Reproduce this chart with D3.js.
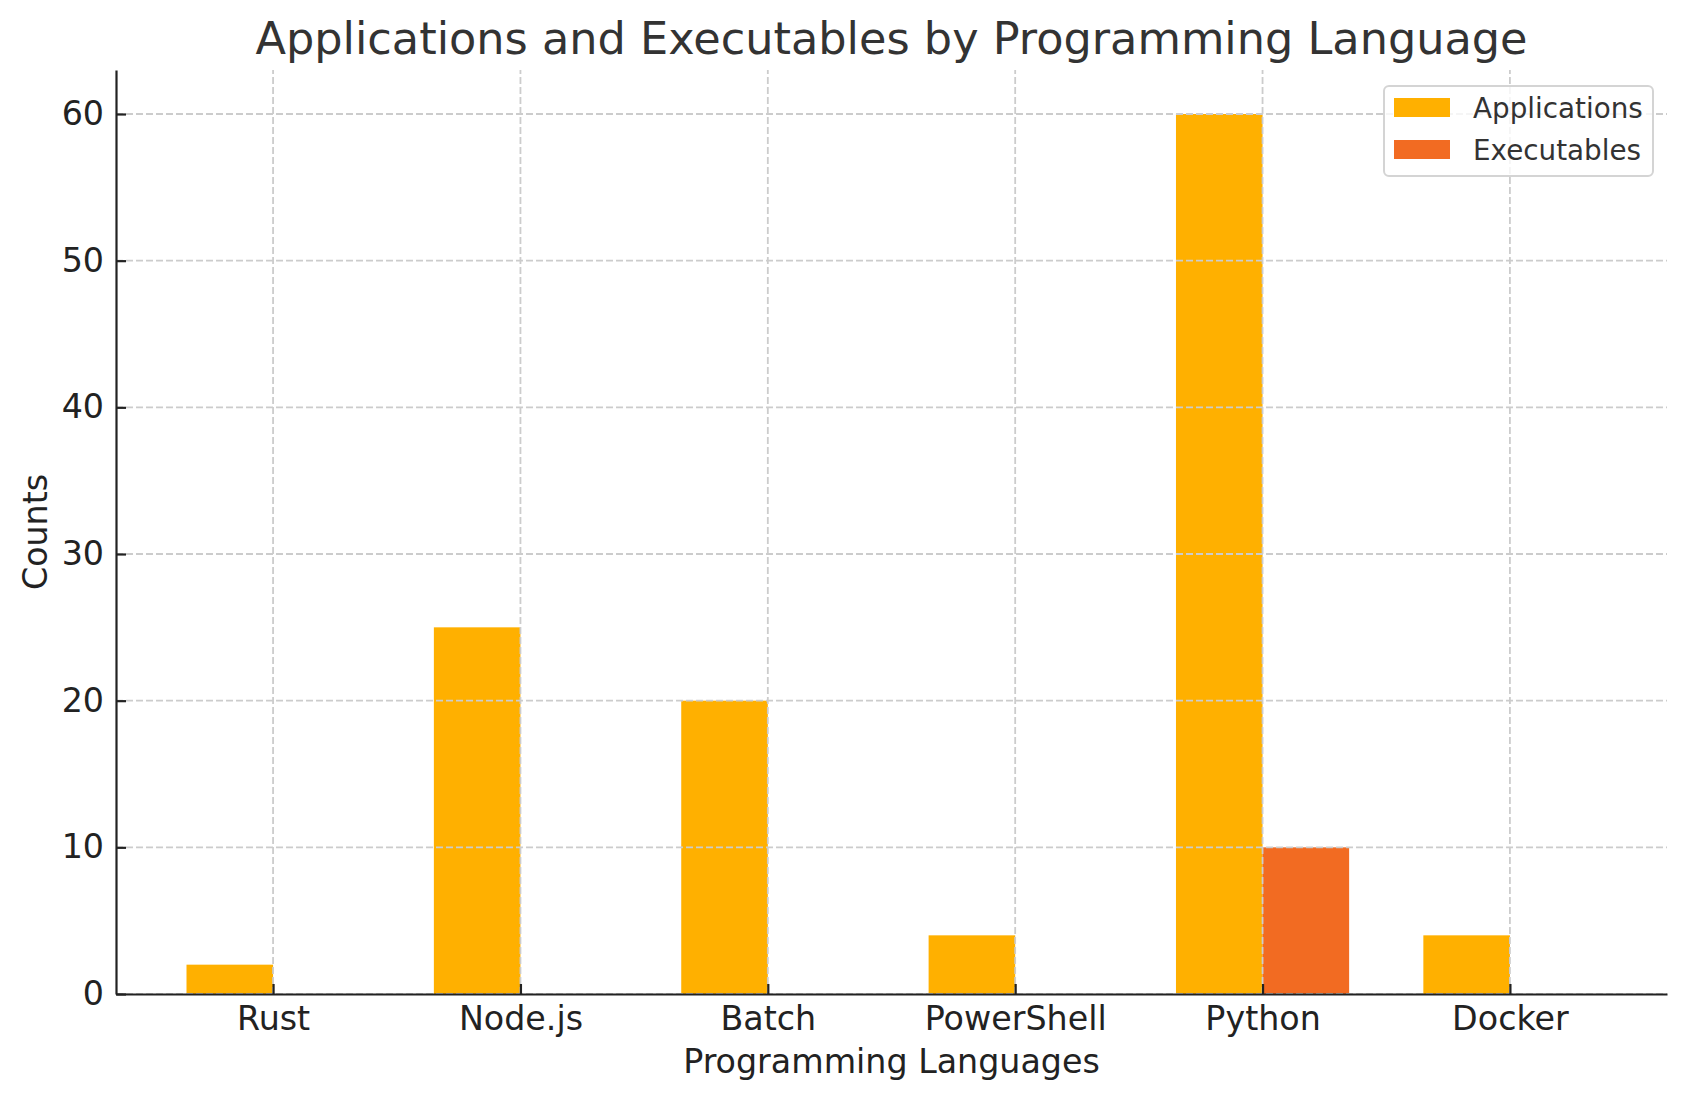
<!DOCTYPE html>
<html>
<head>
<meta charset="utf-8">
<script src="https://cdn.jsdelivr.net/npm/d3@7"></script>
<style>
  body { margin: 0; background: #fff; }
  svg { display: block; font-family: "DejaVu Sans", sans-serif; }
</style>
</head>
<body>
<svg id="chart" width="1686" height="1101"></svg>
<script>
const categories = ["Rust", "Node.js", "Batch", "PowerShell", "Python", "Docker"];
const applications = [2, 25, 20, 4, 60, 4];
const executables = [0, 0, 0, 0, 10, 0];
const seriesNames = ["Applications", "Executables"];
const yTicks = [0, 10, 20, 30, 40, 50, 60];

const colors = ["#FFB000", "#F26B22"];
const W = 1686, H = 1101;
const margin = { left: 116, right: 19, top: 70, bottom: 107 };
const barW = 0.35;
const n = categories.length;
const span = (n - 1) + 2 * barW;
const pad = 0.05 * span;

const svg = d3.select("#chart");
const x = d3.scaleLinear()
  .domain([-barW - pad, (n - 1) + barW + pad])
  .range([margin.left, W - margin.right]);
const yMax = d3.max(applications.concat(executables)) * 1.05;
const y = d3.scaleLinear()
  .domain([0, yMax])
  .range([H - margin.bottom, margin.top]);

// Bars
const series = [applications, executables];
series.forEach((vals, s) => {
  svg.append("g")
    .selectAll("rect")
    .data(vals)
    .join("rect")
    .attr("x", (d, i) => s === 0 ? x(i - barW) : x(i))
    .attr("width", x(barW) - x(0))
    .attr("y", d => y(d))
    .attr("height", d => y(0) - y(d))
    .attr("fill", colors[s]);
});

// Grid (drawn above bars, like matplotlib)
const grid = svg.append("g")
  .attr("stroke", "#cccccc")
  .attr("stroke-width", 1.8)
  .attr("stroke-dasharray", "7,3");
grid.selectAll("line.h")
  .data(yTicks)
  .join("line")
  .attr("class", "h")
  .attr("x1", margin.left).attr("x2", W - margin.right)
  .attr("y1", d => y(d)).attr("y2", d => y(d));
grid.selectAll("line.v")
  .data(d3.range(n))
  .join("line")
  .attr("class", "v")
  .attr("x1", d => x(d)).attr("x2", d => x(d))
  .attr("y1", y(0)).attr("y2", y(yMax));

// Axes
const xAxis = d3.axisBottom(x)
  .tickValues(d3.range(n))
  .tickFormat(i => categories[i])
  .tickSizeInner(-10)
  .tickSizeOuter(0)
  .tickPadding(12);
const gx = svg.append("g")
  .attr("transform", `translate(0,${y(0)})`)
  .call(xAxis);

const yAxis = d3.axisLeft(y)
  .tickValues(yTicks)
  .tickSizeInner(-10)
  .tickSizeOuter(0)
  .tickPadding(12);
const gy = svg.append("g")
  .attr("transform", `translate(${margin.left},0)`)
  .call(yAxis);

[gx, gy].forEach(g => {
  g.select(".domain").attr("stroke", "#222").attr("stroke-width", 2.2);
  g.selectAll(".tick line").attr("stroke", "#222").attr("stroke-width", 2.2);
  g.selectAll(".tick text")
    .attr("fill", "#222")
    .style("font-size", "33.3px")
    .style("font-family", "'DejaVu Sans', sans-serif");
});

// Axis labels
svg.append("text")
  .attr("x", (margin.left + W - margin.right) / 2)
  .attr("y", 1073)
  .attr("text-anchor", "middle")
  .attr("fill", "#222")
  .style("font-size", "33.3px")
  .text("Programming Languages");

svg.append("text")
  .attr("transform", `translate(47,${(margin.top + H - margin.bottom) / 2}) rotate(-90)`)
  .attr("text-anchor", "middle")
  .attr("fill", "#222")
  .style("font-size", "33.3px")
  .text("Counts");

// Title
svg.append("text")
  .attr("x", (margin.left + W - margin.right) / 2)
  .attr("y", 54)
  .attr("text-anchor", "middle")
  .attr("fill", "#333")
  .style("font-size", "44.6px")
  .text("Applications and Executables by Programming Language");

// Legend
const lg = svg.append("g").attr("transform", "translate(1384,86)");
lg.append("rect")
  .attr("width", 269).attr("height", 90)
  .attr("rx", 5).attr("ry", 5)
  .attr("fill", "rgba(255,255,255,0.8)")
  .attr("stroke", "#d4d4d4")
  .attr("stroke-width", 2);
seriesNames.forEach((name, i) => {
  const row = lg.append("g").attr("transform", `translate(0,${12 + i * 42})`);
  row.append("rect")
    .attr("x", 10).attr("width", 56).attr("height", 19)
    .attr("fill", colors[i]);
  row.append("text")
    .attr("x", 89).attr("y", 20)
    .attr("fill", "#333")
    .style("font-size", "27.8px")
    .text(name);
});
</script>
</body>
</html>
